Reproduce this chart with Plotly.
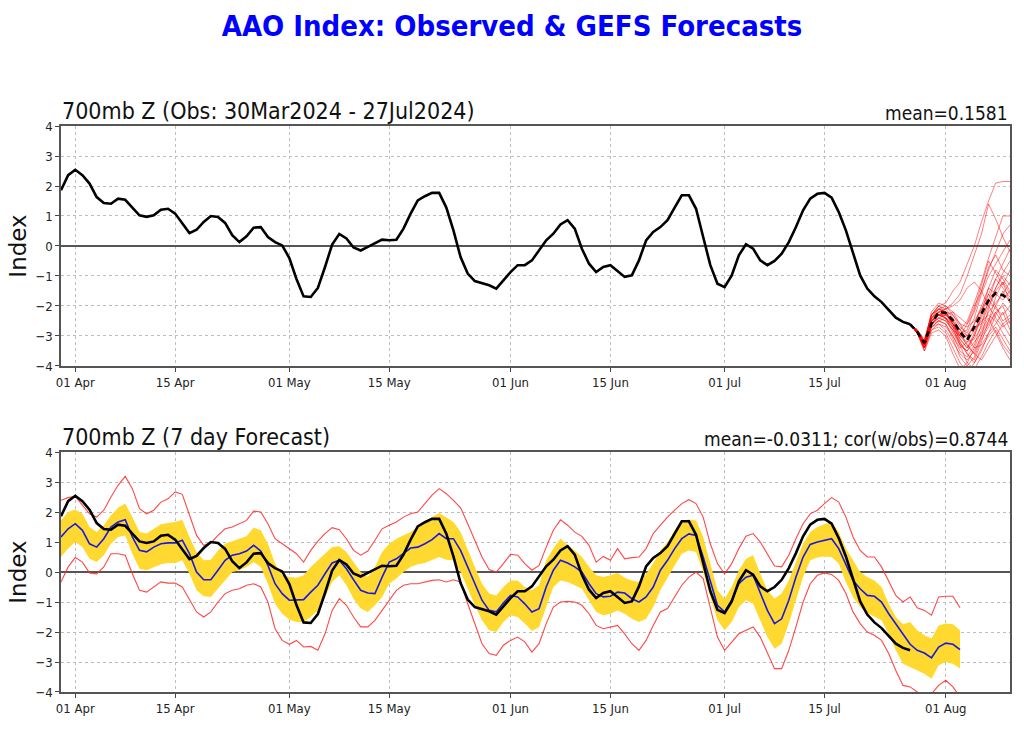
import pandas as pd
import plotly.graph_objects as go

# ---------------- data ----------------
obs_start, obs_end = "2024-03-30", "2024-07-27"
fc_start, fc_end = "2024-03-30", "2024-08-03"
ens_start, ens_end = "2024-07-27", "2024-08-10"

# observed AAO index (daily, 30 Mar - 27 Jul)
obs_mar = [1.86, 2.36]
obs_apr = [2.54, 2.36, 2.08, 1.63, 1.43, 1.41, 1.58, 1.54, 1.28, 1.02, 0.97, 1.02, 1.21, 1.24, 1.08,
           0.74, 0.43, 0.54, 0.80, 1.00, 0.97, 0.77, 0.36, 0.13, 0.32, 0.61, 0.63, 0.30, 0.13, 0.02]
obs_may = [-0.40, -1.10, -1.68, -1.70, -1.40, -0.70, 0.05, 0.40, 0.25, -0.05, -0.15, -0.03, 0.08, 0.21, 0.19,
           0.21, 0.58, 1.08, 1.52, 1.66, 1.77, 1.77, 1.28, 0.52, -0.37, -0.92, -1.17, -1.23, -1.31, -1.42, -1.14]
obs_jun = [-0.87, -0.64, -0.64, -0.48, -0.14, 0.19, 0.41, 0.72, 0.86, 0.58, -0.09, -0.59, -0.87, -0.70, -0.64,
           -0.83, -1.03, -0.98, -0.48, 0.19, 0.47, 0.63, 0.86, 1.28, 1.69, 1.69, 1.24, 0.30, -0.64, -1.26]
obs_jul = [-1.37, -0.98, -0.31, 0.06, -0.09, -0.48, -0.64, -0.50, -0.26, 0.13, 0.63, 1.19, 1.58, 1.74, 1.77,
           1.61, 1.13, 0.52, -0.26, -0.98, -1.42, -1.68, -1.87, -2.14, -2.39, -2.53, -2.61]

# 7-day forecast: ensemble mean (blue), 30 Mar - 03 Aug
fmean_mar = [1.17, 1.44]
fmean_apr = [1.61, 1.39, 0.94, 0.83, 1.11, 1.50, 1.67, 1.74, 1.17, 0.72, 0.67, 0.83, 0.94, 0.97, 0.97,
             1.06, 0.61, 0.00, -0.26, -0.26, 0.06, 0.39, 0.56, 0.61, 0.70, 0.89, 0.70, 0.22, -0.39, -0.72]
fmean_may = [-0.94, -0.94, -0.92, -0.67, -0.44, -0.06, 0.30, 0.39, 0.11, -0.26, -0.61, -0.70, -0.72, -0.17, 0.33,
             0.44, 0.61, 0.80, 0.83, 0.94, 1.08, 1.28, 1.11, 1.11, 0.72, 0.17, -0.39, -0.94, -1.28, -1.33, -1.03]
fmean_jun = [-0.78, -0.83, -1.06, -1.33, -1.22, -0.50, 0.06, 0.39, 0.30, 0.17, 0.00, -0.39, -0.72, -0.83, -0.81,
             -0.67, -0.70, -0.89, -1.00, -0.83, -0.50, 0.06, 0.39, 0.78, 1.11, 1.27, 1.22, 0.50, -0.28, -1.11]
fmean_jul = [-1.33, -0.94, -0.39, -0.17, -0.11, -0.72, -1.28, -1.72, -1.56, -0.94, -0.17, 0.50, 0.92, 1.00, 1.06,
             1.11, 0.78, 0.22, -0.28, -0.56, -0.78, -0.81, -1.00, -1.39, -1.72, -2.06, -2.41, -2.61, -2.70, -2.86, -2.50]
fmean_aug = [-2.37, -2.41, -2.59]

# yellow band (upper / lower)
band_hi_mar = [1.72, 2.00]
band_hi_apr = [2.08, 1.94, 1.50, 1.33, 1.56, 1.89, 2.14, 2.28, 1.83, 1.33, 1.28, 1.44, 1.59, 1.63, 1.67,
               1.74, 1.17, 0.67, 0.39, 0.41, 0.72, 0.94, 1.03, 1.11, 1.19, 1.48, 1.39, 0.94, 0.28, -0.11]
band_hi_may = [-0.17, -0.19, -0.11, 0.17, 0.39, 0.61, 0.83, 0.86, 0.67, 0.33, 0.00, -0.17, 0.17, 0.67, 0.94,
               1.11, 1.22, 1.33, 1.50, 1.67, 1.83, 1.97, 1.83, 1.67, 1.33, 0.78, 0.17, -0.39, -0.72, -0.78, -0.50]
band_hi_jun = [-0.28, -0.28, -0.50, -0.61, -0.44, 0.39, 0.78, 1.11, 0.89, 0.72, 0.50, 0.17, -0.11, -0.17, -0.11,
               -0.03, -0.19, -0.28, -0.33, -0.06, 0.28, 0.72, 1.00, 1.39, 1.72, 1.75, 1.72, 1.17, 0.28, -0.61]
band_hi_jul = [-0.89, -0.50, 0.06, 0.44, 0.56, -0.06, -0.61, -0.89, -0.72, -0.28, 0.33, 0.94, 1.33, 1.50, 1.59,
               1.67, 1.33, 0.78, 0.39, 0.00, -0.17, -0.28, -0.50, -1.06, -1.50, -1.74, -1.67, -1.94, -2.11, -2.22, -1.78]
band_hi_aug = [-1.72, -1.74, -1.94]

band_lo_mar = [0.50, 0.78]
band_lo_apr = [1.00, 0.83, 0.44, 0.33, 0.56, 0.94, 1.17, 1.22, 0.61, 0.11, 0.06, 0.17, 0.26, 0.30, 0.30,
               0.39, -0.06, -0.61, -0.81, -0.83, -0.56, -0.28, 0.00, 0.06, 0.17, 0.33, 0.17, -0.39, -1.06, -1.39]
band_lo_may = [-1.59, -1.67, -1.67, -1.50, -1.28, -0.83, -0.33, -0.11, -0.44, -0.89, -1.22, -1.33, -1.11, -0.83, -0.39,
               -0.22, 0.00, 0.17, 0.26, 0.30, 0.39, 0.50, 0.41, 0.39, 0.00, -0.56, -1.11, -1.61, -1.94, -2.00, -1.67]
band_lo_jun = [-1.44, -1.50, -1.72, -1.97, -1.83, -1.17, -0.50, -0.28, -0.33, -0.44, -0.56, -0.94, -1.33, -1.44, -1.39,
               -1.28, -1.39, -1.56, -1.67, -1.56, -1.17, -0.61, -0.17, 0.22, 0.61, 0.72, 0.67, 0.00, -0.83, -1.61]
band_lo_jul = [-1.94, -1.67, -1.17, -0.94, -1.06, -1.61, -2.17, -2.56, -2.39, -1.72, -0.94, -0.17, 0.39, 0.48, 0.52,
               0.50, 0.28, -0.33, -0.83, -1.17, -1.37, -1.50, -1.61, -2.06, -2.61, -3.06, -3.17, -3.26, -3.39, -3.56, -3.11]
band_lo_aug = [-3.00, -3.06, -3.22]

# red envelope (max / min)
red_hi_mar = [2.39, 2.48]
red_hi_apr = [2.52, 2.22, 1.94, 1.83, 2.06, 2.50, 2.89, 3.19, 2.78, 2.11, 1.94, 2.06, 2.33, 2.44, 2.67,
              2.59, 1.94, 1.22, 0.89, 0.97, 1.22, 1.44, 1.50, 1.61, 1.72, 2.03, 2.00, 1.61, 1.11, 0.94]
red_hi_may = [0.78, 0.61, 0.33, 0.72, 1.03, 1.28, 1.48, 1.41, 1.11, 0.72, 0.56, 0.70, 1.06, 1.44, 1.56,
              1.67, 1.83, 1.94, 2.00, 2.28, 2.56, 2.78, 2.61, 2.39, 2.14, 1.61, 1.06, 0.50, 0.08, 0.00, 0.28]
red_hi_jun = [0.59, 0.56, 0.28, 0.06, 0.22, 0.83, 1.39, 1.74, 1.56, 1.33, 1.19, 0.89, 0.33, 0.52, 0.39,
              0.78, 0.44, 0.48, 0.50, 0.78, 1.28, 1.56, 1.83, 2.06, 2.28, 2.41, 2.28, 1.83, 0.94, 0.28]
red_hi_jul = [-0.06, 0.28, 0.78, 1.19, 1.28, 1.00, 0.61, 0.20, 0.17, 0.56, 1.11, 1.61, 1.94, 2.06, 2.28,
              2.48, 2.33, 1.83, 1.17, 0.72, 0.50, 0.50, 0.17, -0.33, -0.78, -1.00, -0.83, -1.19, -1.28, -1.44, -0.83]
red_hi_aug = [-0.81, -0.81, -1.19]

red_lo_mar = [-0.33, 0.17]
red_lo_apr = [0.48, 0.33, -0.03, -0.06, 0.17, 0.61, 0.61, 0.56, -0.06, -0.61, -0.67, -0.50, -0.33, -0.37, -0.37,
              -0.50, -0.94, -1.33, -1.50, -1.33, -1.00, -0.72, -0.61, -0.56, -0.44, -0.39, -0.50, -1.00, -1.89, -2.28]
red_lo_may = [-2.41, -2.28, -2.50, -2.48, -2.61, -2.06, -1.28, -0.89, -1.11, -1.50, -1.83, -1.83, -1.61, -1.28, -0.94,
              -0.61, -0.44, -0.39, -0.39, -0.33, -0.28, -0.26, -0.33, -0.26, -0.33, -1.06, -1.72, -2.39, -2.72, -2.78, -2.44]
red_lo_jun = [-2.28, -2.17, -2.33, -2.67, -2.39, -1.72, -1.17, -1.00, -0.98, -1.00, -1.11, -1.39, -1.78, -1.89, -1.83,
              -1.78, -2.06, -2.39, -2.61, -2.28, -1.78, -1.33, -1.22, -0.83, -0.44, -0.17, 0.00, -0.22, -1.17, -2.17]
red_lo_jul = [-2.61, -2.33, -2.06, -1.94, -1.83, -2.17, -2.72, -3.22, -3.22, -2.61, -1.83, -1.00, -0.39, -0.11, -0.03,
              -0.08, -0.28, -0.72, -1.33, -1.72, -2.00, -2.11, -2.28, -2.72, -3.28, -3.78, -3.83, -4.00, -4.17, -4.06, -3.78]
red_lo_aug = [-3.61, -3.83, -4.17]

# GEFS ensemble members, 27 Jul - 10 Aug
members = [
    [-2.6, -2.8, -3.2, -2.3, -2.0, -1.9, -1.5, -1.2, -0.6, 0.0, 0.8, 1.5, 2.1, 2.15, 2.15],
    [-2.6, -2.9, -3.3, -2.5, -2.2, -2.1, -1.9, -1.6, -1.0, -0.3, 0.4, 1.4, 0.9, 0.3, -0.2],
    [-2.6, -2.85, -3.4, -2.6, -2.4, -2.5, -2.8, -3.0, -2.6, -2.0, -1.5, -0.8, -0.2, 0.4, 0.7],
    [-2.6, -2.9, -3.3, -2.7, -2.5, -2.4, -2.6, -3.1, -3.4, -3.0, -2.4, -1.9, -1.4, -1.0, -1.3],
    [-2.6, -2.8, -3.2, -2.2, -1.9, -2.0, -2.3, -2.7, -2.9, -2.4, -1.6, -1.0, -0.6, -0.2, 0.2],
    [-2.6, -2.9, -3.5, -2.8, -2.6, -2.8, -3.2, -3.6, -3.8, -3.5, -3.0, -2.6, -2.2, -2.6, -3.0],
    [-2.6, -2.85, -3.3, -2.4, -2.1, -2.2, -2.6, -3.2, -3.6, -3.9, -3.5, -2.9, -2.3, -1.9, -2.2],
    [-2.6, -2.8, -3.1, -2.3, -2.0, -2.1, -2.4, -2.8, -3.1, -2.6, -2.0, -1.4, -1.6, -1.8, -1.5],
    [-2.6, -2.9, -3.4, -2.5, -2.3, -2.3, -2.5, -2.9, -3.3, -3.6, -3.0, -2.1, -1.4, -0.9, -0.5],
    [-2.6, -2.85, -3.2, -2.3, -2.1, -2.2, -2.7, -3.3, -3.9, -4.1, -3.7, -3.2, -2.8, -3.3, -3.6],
    [-2.6, -2.9, -3.3, -2.6, -2.4, -2.3, -2.2, -2.4, -2.6, -2.2, -1.5, -0.7, -0.3, -0.8, -1.0],
    [-2.6, -2.8, -3.2, -2.4, -2.2, -2.2, -2.5, -3.0, -3.2, -3.1, -2.7, -2.2, -1.9, -1.6, -1.2],
    [-2.6, -2.9, -3.4, -2.7, -2.5, -2.6, -3.0, -3.5, -3.7, -3.3, -2.6, -1.8, -1.1, -1.4, -1.7],
    [-2.6, -2.85, -3.3, -2.5, -2.2, -2.1, -2.0, -1.8, -1.4, -1.2, -1.5, -2.0, -2.4, -2.7, -2.5],
    [-2.6, -2.8, -3.2, -2.3, -2.0, -2.2, -2.6, -2.8, -2.5, -1.9, -1.2, -0.4, 0.3, 1.0, 1.0],
    [-2.6, -2.9, -3.3, -2.6, -2.3, -2.4, -2.9, -3.3, -3.5, -3.2, -2.9, -2.5, -2.0, -1.5, -1.9],
    [-2.6, -2.85, -3.4, -2.6, -2.3, -2.3, -2.6, -3.0, -3.0, -2.6, -2.1, -1.6, -1.1, -0.6, -0.1],
    [-2.6, -2.8, -3.2, -2.4, -2.1, -2.0, -2.2, -2.6, -3.0, -3.4, -3.3, -2.9, -2.6, -2.2, -2.8],
    [-2.6, -2.9, -3.3, -2.5, -2.3, -2.4, -2.7, -3.1, -3.4, -2.9, -2.2, -1.4, -0.8, -1.1, -1.5],
    [-2.6, -2.85, -3.3, -2.6, -2.4, -2.5, -2.8, -3.2, -3.6, -3.8, -3.2, -2.5, -1.7, -1.2, -1.9],
    [-2.6, -2.9, -3.3, -2.7, -2.6, -2.7, -3.0, -3.4, -3.2, -2.8, -2.5, -2.3, -2.5, -2.9, -3.3],
    [-2.6, -2.8, -3.2, -2.5, -2.3, -2.2, -2.3, -2.6, -2.7, -2.5, -2.1, -1.8, -2.1, -2.3, -2.0],
    [-2.6, -2.85, -3.3, -2.4, -2.2, -2.4, -2.8, -3.3, -3.5, -3.0, -2.3, -1.6, -2.0, -2.5, -2.3],
    [-2.6, -2.9, -3.4, -2.6, -2.3, -2.3, -2.5, -2.8, -3.0, -2.7, -2.6, -2.0, -1.5, -1.2, -1.6],
    [-2.6, -2.8, -3.2, -2.3, -2.1, -2.2, -2.6, -3.0, -3.3, -3.6, -3.8, -3.4, -3.0, -2.6, -2.4],
    [-2.6, -2.85, -3.3, -2.5, -2.3, -2.4, -2.7, -2.9, -2.8, -2.1, -1.3, -0.5, -0.9, -1.3, -0.8],
    [-2.6, -2.9, -3.4, -2.8, -2.7, -2.9, -3.4, -3.9, -4.2, -3.9, -3.4, -3.0, -2.7, -3.1, -3.5],
    [-2.6, -2.85, -3.5, -2.9, -2.8, -3.0, -3.6, -4.1, -3.9, -3.4, -2.8, -2.4, -2.9, -3.4, -3.8],
    [-2.6, -2.9, -3.3, -2.6, -2.5, -2.6, -3.1, -3.7, -4.0, -3.7, -3.1, -2.7, -2.2, -2.0, -2.6],
]
ens_mean = [-2.61, -2.87, -3.23, -2.59, -2.20, -2.23, -2.48, -2.87, -3.14, -2.70, -2.23, -1.81, -1.57, -1.64, -1.81]

tick_dates = ["2024-04-01", "2024-04-15", "2024-05-01", "2024-05-15", "2024-06-01",
              "2024-06-15", "2024-07-01", "2024-07-15", "2024-08-01"]
tick_text = ["01 Apr", "15 Apr", "01 May", "15 May", "01 Jun", "15 Jun", "01 Jul", "15 Jul", "01 Aug"]

title_text = "AAO Index: Observed & GEFS Forecasts"
top_left = "700mb Z (Obs: 30Mar2024 - 27Jul2024)"
top_right = "mean=0.1581"
bot_left = "700mb Z (7 day Forecast)"
bot_right = "mean=-0.0311; cor(w/obs)=0.8744"

# ---------------- build ----------------
obs = obs_mar + obs_apr + obs_may + obs_jun + obs_jul
fmean = fmean_mar + fmean_apr + fmean_may + fmean_jun + fmean_jul + fmean_aug
band_hi = band_hi_mar + band_hi_apr + band_hi_may + band_hi_jun + band_hi_jul + band_hi_aug
band_lo = band_lo_mar + band_lo_apr + band_lo_may + band_lo_jun + band_lo_jul + band_lo_aug
red_hi = red_hi_mar + red_hi_apr + red_hi_may + red_hi_jun + red_hi_jul + red_hi_aug
red_lo = red_lo_mar + red_lo_apr + red_lo_may + red_lo_jun + red_lo_jul + red_lo_aug

obs_dates = pd.date_range(obs_start, obs_end, freq="D")
fc_dates = pd.date_range(fc_start, fc_end, freq="D")
ens_dates = pd.date_range(ens_start, ens_end, freq="D")

FONT = "DejaVu Sans Condensed, DejaVu Sans, sans-serif"
FONT_REG = "DejaVu Sans, sans-serif"

fig = go.Figure()

# top panel
fig.add_trace(go.Scatter(x=obs_dates, y=obs, mode="lines", line=dict(color="black", width=2.6),
                         xaxis="x", yaxis="y", showlegend=False))
for m in members:
    fig.add_trace(go.Scatter(x=ens_dates, y=m, mode="lines", line=dict(color="rgba(255,0,0,0.5)", width=1),
                             xaxis="x", yaxis="y", showlegend=False))
fig.add_trace(go.Scatter(x=ens_dates, y=ens_mean, mode="lines",
                         line=dict(color="black", width=2.6, dash="6px,4px"),
                         xaxis="x", yaxis="y", showlegend=False))

# bottom panel
fig.add_trace(go.Scatter(x=fc_dates, y=band_lo, mode="lines", line=dict(width=0, color="#FFD92F"),
                         xaxis="x2", yaxis="y2", showlegend=False))
fig.add_trace(go.Scatter(x=fc_dates, y=band_hi, mode="lines", line=dict(width=0, color="#FFD92F"),
                         fill="tonexty", fillcolor="#FFD92F", xaxis="x2", yaxis="y2", showlegend=False))
fig.add_trace(go.Scatter(x=fc_dates, y=red_hi, mode="lines", line=dict(color="rgba(255,40,40,0.85)", width=1.1),
                         xaxis="x2", yaxis="y2", showlegend=False))
fig.add_trace(go.Scatter(x=fc_dates, y=red_lo, mode="lines", line=dict(color="rgba(255,40,40,0.85)", width=1.1),
                         xaxis="x2", yaxis="y2", showlegend=False))
fig.add_trace(go.Scatter(x=fc_dates, y=fmean, mode="lines", line=dict(color="#1a1adf", width=1.6),
                         xaxis="x2", yaxis="y2", showlegend=False))
fig.add_trace(go.Scatter(x=obs_dates, y=obs, mode="lines", line=dict(color="black", width=2.6),
                         xaxis="x2", yaxis="y2", showlegend=False))

x_common = dict(
    type="date", range=["2024-03-30", "2024-08-10"], automargin=False,
    tickmode="array", tickvals=tick_dates, ticktext=tick_text,
    showgrid=True, gridcolor="#bdbdbd", griddash="3px,3px", gridwidth=1,
    ticks="outside", ticklen=4, tickcolor="#444", tickwidth=1,
    showline=True, linecolor="#555", linewidth=1.5, mirror=True,
    tickfont=dict(family=FONT, size=13, color="#222"),
    zeroline=False,
)
y_common = dict(
    range=[-4, 4], tickmode="linear", tick0=-4, dtick=1, automargin=False,
    showgrid=True, gridcolor="#bdbdbd", griddash="3px,3px", gridwidth=1,
    zeroline=True, zerolinecolor="#555", zerolinewidth=1.5,
    ticks="outside", ticklen=4, tickcolor="#444", tickwidth=1,
    showline=True, linecolor="#555", linewidth=1.5, mirror=True,
    tickfont=dict(family=FONT, size=13, color="#222"),
    title=dict(text="Index", font=dict(family=FONT_REG, size=23, color="#111"), standoff=2),
)

top_dom = [0.576, 1.0]
bot_dom = [0.0, 0.424]

fig.update_layout(
    width=1024, height=732,
    paper_bgcolor="white", plot_bgcolor="white",
    margin=dict(l=61, r=14, t=126, b=40),
    title=dict(text="<b>" + title_text + "</b>", x=0.5, xanchor="center", y=1 - 26 / 732, yanchor="middle",
               font=dict(family=FONT, size=29, color="#0000ff")),
    xaxis=dict(domain=[0, 1], anchor="y", **x_common),
    yaxis=dict(domain=top_dom, anchor="x", **y_common),
    xaxis2=dict(domain=[0, 1], anchor="y2", **x_common),
    yaxis2=dict(domain=bot_dom, anchor="x2", **y_common),
    annotations=[
        dict(text=top_left, xref="paper", yref="paper", x=0, y=top_dom[1], xanchor="left", yanchor="bottom",
             showarrow=False, font=dict(family=FONT, size=23, color="#111"), xshift=-1, yshift=0),
        dict(text=top_right, xref="paper", yref="paper", x=1, y=top_dom[1], xanchor="right", yanchor="bottom",
             showarrow=False, font=dict(family=FONT, size=19, color="#111"), yshift=0),
        dict(text=bot_left, xref="paper", yref="paper", x=0, y=bot_dom[1], xanchor="left", yanchor="bottom",
             showarrow=False, font=dict(family=FONT, size=23, color="#111"), xshift=-1, yshift=0),
        dict(text=bot_right, xref="paper", yref="paper", x=1, y=bot_dom[1], xanchor="right", yanchor="bottom",
             showarrow=False, font=dict(family=FONT, size=19, color="#111"), yshift=0),
    ],
)

fig.write_html("out.html", config={"displayModeBar": False},
               post_script="document.body.style.margin='0px';")
